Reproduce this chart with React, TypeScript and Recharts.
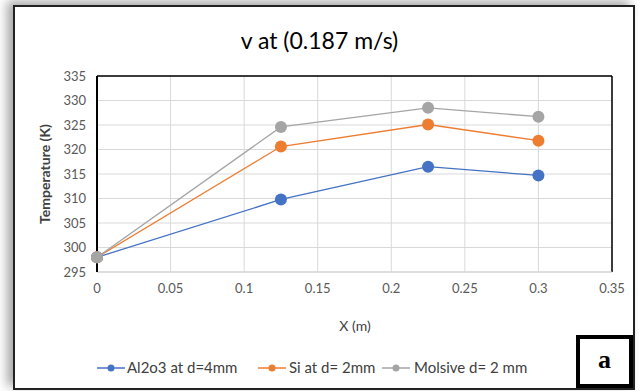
import React from 'react';
import {
  LineChart,
  Line,
  XAxis,
  YAxis,
  CartesianGrid,
  ReferenceLine,
} from 'recharts';

const xValues = [0, 0.125, 0.225, 0.3];
const al2o3 = [298, 309.8, 316.5, 314.7];
const si = [298, 320.6, 325.1, 321.8];
const molsive = [298, 324.6, 328.5, 326.7];

const xTicks = [0, 0.05, 0.1, 0.15, 0.2, 0.25, 0.3, 0.35];
const yTicks = [295, 300, 305, 310, 315, 320, 325, 330, 335];

const seriesNames = ['Al2o3 at d=4mm', 'Si at d= 2mm', 'Molsive d= 2 mm'];
const colors = ['#4472C4', '#ED7D31', '#A5A5A5'];

const data = xValues.map((x, i) => ({
  x,
  al2o3: al2o3[i],
  si: si[i],
  molsive: molsive[i],
}));

const FONT = 'Lato, "Open Sans", sans-serif';
const tickStyle = { fontSize: 13, fill: '#595959', fontFamily: FONT };

function LegendItem({ name, color, left, textLeft }: { name: string; color: string; left: number; textLeft: number }) {
  return (
    <>
      <svg style={{ position: 'absolute', left, top: 360 }} width={28} height={16}>
        <line x1={0} y1={8} x2={28} y2={8} stroke={color} strokeWidth={1.5} />
        <circle cx={14} cy={8} r={3.5} fill={color} />
      </svg>
      <div
        style={{
          position: 'absolute',
          left: textLeft,
          top: 358,
          fontSize: 15,
          color: '#404040',
          fontFamily: FONT,
          whiteSpace: 'nowrap',
        }}
      >
        {name}
      </div>
    </>
  );
}

export default function App() {
  return (
    <div
      style={{
        position: 'fixed',
        left: 0,
        top: 0,
        width: 639,
        height: 391,
        background: '#fff',
        overflow: 'hidden',
      }}
    >
      {/* outer frame */}
      <div
        style={{
          position: 'absolute',
          left: 13,
          top: 5,
          width: 618,
          height: 381,
          border: '2px solid #222',
          boxShadow: '-6px -4px 10px rgba(0,0,0,0.35)',
          background: '#fff',
        }}
      />
      <div
        style={{
          position: 'absolute',
          left: 0,
          width: 639,
          top: 26,
          textAlign: 'center',
          fontSize: 23,
          fontFamily: FONT,
          color: '#000',
        }}
      >
        v at (0.187 m/s)
      </div>
      <div
        style={{
          position: 'absolute',
          left: 44,
          top: 174,
          transform: 'translate(-50%, -50%) rotate(-90deg)',
          fontSize: 14,
          fontWeight: 'bold',
          fontFamily: FONT,
          color: '#404040',
          whiteSpace: 'nowrap',
        }}
      >
        Temperature (K)
      </div>
      <div
        style={{
          position: 'absolute',
          left: 355,
          top: 325,
          transform: 'translate(-50%, -50%)',
          fontSize: 14,
          fontFamily: FONT,
          color: '#404040',
          whiteSpace: 'nowrap',
        }}
      >
        X (m)
      </div>
      <div style={{ position: 'absolute', left: 0, top: 0 }}>
        <LineChart
          width={639}
          height={391}
          data={data}
          margin={{ top: 76, right: 27, left: 57, bottom: 89 }}
        >
          <CartesianGrid stroke="#d9d9d9" strokeWidth={1} />
          <XAxis
            dataKey="x"
            type="number"
            domain={[0, 0.35]}
            ticks={xTicks}
            tick={tickStyle}
            tickSize={0}
            tickMargin={12}
            axisLine={{ stroke: '#d0d0d0' }}
            height={30}
          />
          <YAxis
            type="number"
            domain={[295, 335]}
            ticks={yTicks}
            tick={tickStyle}
            tickSize={0}
            tickMargin={11}
            axisLine={{ stroke: '#000', strokeWidth: 2 }}
            width={40}
          />
          <ReferenceLine y={335} stroke="#000" strokeWidth={1.5} />
          <ReferenceLine x={0.35} stroke="#000" strokeWidth={1.5} />
          <Line
            dataKey="al2o3"
            stroke={colors[0]}
            strokeWidth={1.3}
            dot={{ r: 6, fill: colors[0], stroke: colors[0], strokeWidth: 0 }}
            isAnimationActive={false}
          />
          <Line
            dataKey="si"
            stroke={colors[1]}
            strokeWidth={1.3}
            dot={{ r: 6, fill: colors[1], stroke: colors[1], strokeWidth: 0 }}
            isAnimationActive={false}
          />
          <Line
            dataKey="molsive"
            stroke={colors[2]}
            strokeWidth={1.3}
            dot={{ r: 6, fill: colors[2], stroke: colors[2], strokeWidth: 0 }}
            isAnimationActive={false}
          />
        </LineChart>
      </div>
      <LegendItem name={seriesNames[0]} color={colors[0]} left={97} textLeft={127} />
      <LegendItem name={seriesNames[1]} color={colors[1]} left={258} textLeft={289} />
      <LegendItem name={seriesNames[2]} color={colors[2]} left={382} textLeft={414} />
      {/* panel tag */}
      <div
        style={{
          position: 'absolute',
          left: 576,
          top: 335,
          width: 49,
          height: 45,
          border: '4px solid #000',
          background: '#fff',
          textAlign: 'center',
          fontFamily: '"Liberation Serif", serif',
          fontWeight: 'bold',
          fontSize: 26,
          lineHeight: '42px',
          color: '#000',
        }}
      >
        a
      </div>
    </div>
  );
}
